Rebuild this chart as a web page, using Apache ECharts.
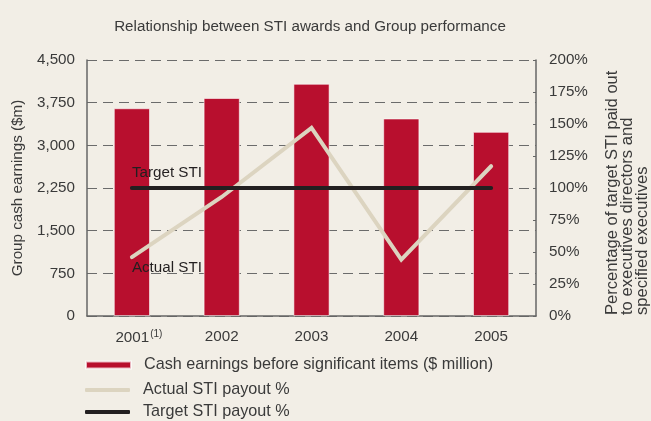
<!DOCTYPE html>
<html>
<head>
<meta charset="utf-8">
<script src="https://cdn.jsdelivr.net/npm/echarts@6/dist/echarts.min.js"></script>
<style>
  html, body { margin: 0; padding: 0; background: #f2eee6; }
  #chart { width: 651px; height: 421px; }
</style>
</head>
<body>
<div id="chart"></div>
<script>
const years = ['2001', '2002', '2003', '2004', '2005']
const cashEarnings = [3650, 3830, 4080, 3470, 3235]
const actualSti = [46, 93, 147, 44, 117]
const targetSti = [100, 100, 100, 100, 100]

const textColor = '#3a3a3a'
const font = 'Liberation Sans'
const fs = 15.2

const chart = echarts.init(document.getElementById('chart'))

function legendAt(name, top, icon, h) {
  return {
    left: 85,
    top: top,
    orient: 'vertical',
    selectedMode: false,
    data: [{ name, icon }],
    itemWidth: 45,
    itemHeight: h,
    itemGap: 0,
    padding: 0,
    textStyle: { color: textColor, fontSize: 16.2, fontFamily: font, padding: [0, 0, 0, 8] },
  }
}

chart.setOption({
  backgroundColor: '#f2eee6',
  animation: false,
  title: {
    text: 'Relationship between STI awards and Group performance',
    left: 305,
    textAlign: 'center',
    top: 14,
    textStyle: { color: textColor, fontSize: fs, fontWeight: 'normal', fontFamily: font },
  },
  legend: [
    legendAt('Cash earnings before significant items ($ million)', 357, 'rect', 7),
    legendAt('Actual STI payout %', 382, 'roundRect', 4),
    legendAt('Target STI payout %', 404, 'roundRect', 4),
  ],
  grid: { left: 87, right: 115, top: 60, bottom: 105 },
  xAxis: {
    type: 'category',
    data: years,
    axisLine: { lineStyle: { color: '#666', width: 1.5 } },
    axisTick: { show: false },
    axisLabel: {
      interval: 0,
      color: textColor,
      fontSize: fs,
      fontFamily: font,
      margin: 13,
      formatter: (v, i) => (i === 0 ? '{sp| }' + v + '{sup|(1)}' : v),
      rich: {
        sp: { width: 14 },
        sup: { fontSize: 10, verticalAlign: 'top', padding: [0, 0, 8, 1], color: textColor, fontFamily: font },
      },
    },
  },
  yAxis: [
    {
      type: 'value',
      min: 0,
      max: 4500,
      interval: 750,
      name: 'Group cash earnings ($m)',
      nameLocation: 'middle',
      nameGap: 62,
      nameTextStyle: { color: textColor, fontSize: fs, fontFamily: font },
      axisLine: { show: true, lineStyle: { color: '#666', width: 1.5 } },
      axisTick: { show: false },
      axisLabel: {
        color: textColor,
        fontSize: fs,
        fontFamily: font,
        margin: 12,
        padding: [4, 0, 0, 0],
        formatter: (v) => v.toLocaleString('en-US'),
      },
      splitLine: { lineStyle: { color: '#6b6b6b', type: [10, 6], width: 1 } },
    },
    {
      type: 'value',
      min: 0,
      max: 200,
      interval: 25,
      position: 'right',
      axisLine: { show: true, lineStyle: { color: '#666', width: 1.5 } },
      axisTick: { show: true, inside: true, length: 3, lineStyle: { color: '#666' } },
      axisLabel: {
        color: textColor,
        fontSize: fs,
        fontFamily: font,
        margin: 13,
        padding: [4, 0, 0, 0],
        formatter: '{value}%',
      },
      splitLine: { show: false },
    },
  ],
  graphic: [
    {
      type: 'text',
      x: 605,
      y: 315,
      rotation: Math.PI / 2,
      style: {
        text: 'Percentage of target STI paid out\nto executives directors and\nspecified executives',
        fill: textColor,
        fontSize: 16.6,
        fontFamily: font,
        lineHeight: 15,
        align: 'left',
        verticalAlign: 'top',
      },
    },
  ],
  series: [
    {
      name: 'Cash earnings before significant items ($ million)',
      type: 'bar',
      data: cashEarnings,
      barWidth: 36,
      itemStyle: { color: '#b80f2e', borderColor: 'rgba(255,255,255,0.7)', borderWidth: 0.8 },
    },
    {
      name: 'Actual STI payout %',
      type: 'line',
      yAxisIndex: 1,
      symbol: 'circle',
      symbolSize: 1,
      lineStyle: { color: '#dcd4c0', width: 4, cap: 'round', join: 'miter' },
      itemStyle: { color: '#dcd4c0' },
      data: actualSti.map((v, i) =>
        i === 0
          ? {
              value: v,
              label: {
                show: true,
                position: 'bottom',
                align: 'left',
                distance: 3,
                formatter: 'Actual STI',
                color: '#231f20',
                fontSize: fs,
                fontFamily: font,
              },
            }
          : v
      ),
    },
    {
      name: 'Target STI payout %',
      type: 'line',
      yAxisIndex: 1,
      symbol: 'circle',
      symbolSize: 1,
      lineStyle: { color: '#231f20', width: 4, cap: 'round' },
      itemStyle: { color: '#231f20' },
      data: targetSti.map((v, i) =>
        i === 0
          ? {
              value: v,
              label: {
                show: true,
                position: 'top',
                align: 'left',
                distance: 7,
                formatter: 'Target STI',
                color: '#231f20',
                fontSize: fs,
                fontFamily: font,
              },
            }
          : v
      ),
    },
  ],
})
</script>
</body>
</html>
